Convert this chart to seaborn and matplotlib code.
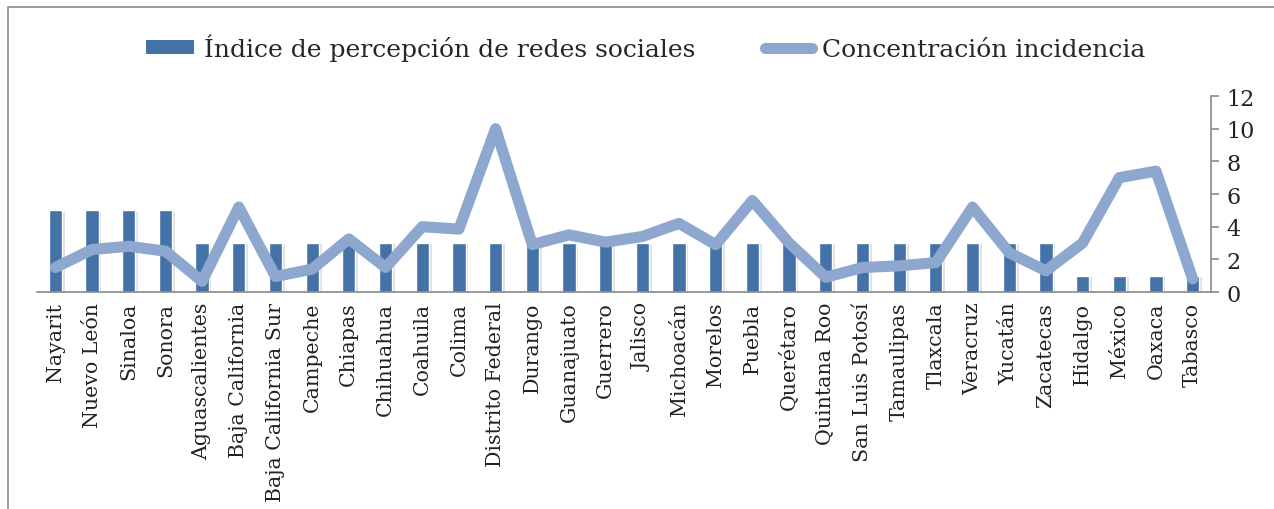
import matplotlib
matplotlib.use("Agg")
import matplotlib.pyplot as plt
import matplotlib.patheffects as pe
from matplotlib.patches import Patch, Rectangle
from matplotlib.lines import Line2D
import seaborn as sns
import numpy as np
import pandas as pd

states = ["Nayarit", "Nuevo León", "Sinaloa", "Sonora", "Aguascalientes",
          "Baja California", "Baja California Sur", "Campeche", "Chiapas",
          "Chihuahua", "Coahuila", "Colima", "Distrito Federal", "Durango",
          "Guanajuato", "Guerrero", "Jalisco", "Michoacán", "Morelos", "Puebla",
          "Querétaro", "Quintana Roo", "San Luis Potosí", "Tamaulipas",
          "Tlaxcala", "Veracruz", "Yucatán", "Zacatecas", "Hidalgo", "México",
          "Oaxaca", "Tabasco"]
indice = [5, 5, 5, 5, 3, 3, 3, 3, 3, 3, 3, 3, 3, 3, 3, 3, 3, 3, 3, 3,
          3, 3, 3, 3, 3, 3, 3, 3, 1, 1, 1, 1]
concentracion = [1.5, 2.6, 2.8, 2.5, 0.65, 5.2, 0.95, 1.4, 3.25, 1.5, 4.0, 3.85,
                 10.0, 2.9, 3.5, 3.05, 3.4, 4.2, 2.9, 5.6, 3.0, 0.9, 1.5, 1.6,
                 1.8, 5.2, 2.4, 1.3, 3.0, 7.0, 7.4, 0.8]
yticks = [0, 2, 4, 6, 8, 10, 12]

bar_label = "Índice de percepción de redes sociales"
line_label = "Concentración incidencia"
bar_color = "#4472A7"
line_color = "#8DA7CE"
axis_grey = "#898989"

sns.set_theme(style="white")
plt.rcParams["font.family"] = ["DejaVu Serif"]

fig = plt.figure(figsize=(12.74, 5.10), dpi=100)
fig.patches.append(Rectangle((8 / 1274, -0.1), 1.2, (510 - 8) / 510 + 0.1,
                             transform=fig.transFigure, fill=False,
                             edgecolor="#8a8a8a", linewidth=1.2))
ax = fig.add_axes([37 / 1274, (510 - 293) / 510, (1211 - 37) / 1274, (293 - 97) / 510])

df = pd.DataFrame({"estado": states, "indice": indice, "conc": concentracion})
sns.barplot(data=df, x="estado", y="indice", color=bar_color, width=0.36,
            saturation=1, ax=ax, zorder=2)
for p in ax.patches:
    p.set_path_effects([pe.SimplePatchShadow(offset=(2, -1), shadow_rgbFace="#9a9a9a",
                                             alpha=0.3), pe.Normal()])
sns.lineplot(x=np.arange(len(states)), y=df["conc"], color=line_color, linewidth=8,
             sort=False, ax=ax, zorder=3, solid_capstyle="round", solid_joinstyle="round")

ax.set_xlim(-0.5, len(states) - 0.5)
ax.set_ylim(0, 12)
ax.set_xlabel("")
ax.set_ylabel("")
ax.yaxis.tick_right()
ax.set_yticks(yticks)
ax.set_yticklabels([str(v) for v in yticks], fontsize=16, color="#222222")
ax.set_xticks(np.arange(len(states)))
ax.set_xticklabels(states, rotation=90, fontsize=14.8, color="#222222")
ax.set_xticks(np.arange(len(states) + 1) - 0.5, minor=True)
ax.tick_params(axis="x", which="major", length=0, pad=7)
ax.tick_params(axis="x", which="minor", length=6, color=axis_grey, width=1.2, direction="out")
ax.tick_params(axis="y", which="major", length=6, color=axis_grey, width=1.2,
               direction="out", right=True, left=False, pad=5)
for s in ["top", "left"]:
    ax.spines[s].set_visible(False)
for s in ["bottom", "right"]:
    ax.spines[s].set_visible(True)
    ax.spines[s].set_color(axis_grey)
    ax.spines[s].set_linewidth(1.2)

handles = [Patch(facecolor=bar_color, edgecolor="none"),
           Line2D([0], [0], color=line_color, linewidth=8, solid_capstyle="round")]
fig.legend(handles, [bar_label, line_label], loc="center", bbox_to_anchor=(0.507, 1 - 48 / 510),
           ncol=2, frameon=False, fontsize=18, handlelength=1.9, handleheight=0.45,
           handletextpad=0.4, columnspacing=2.8)

fig.savefig("out.png", dpi=100)
